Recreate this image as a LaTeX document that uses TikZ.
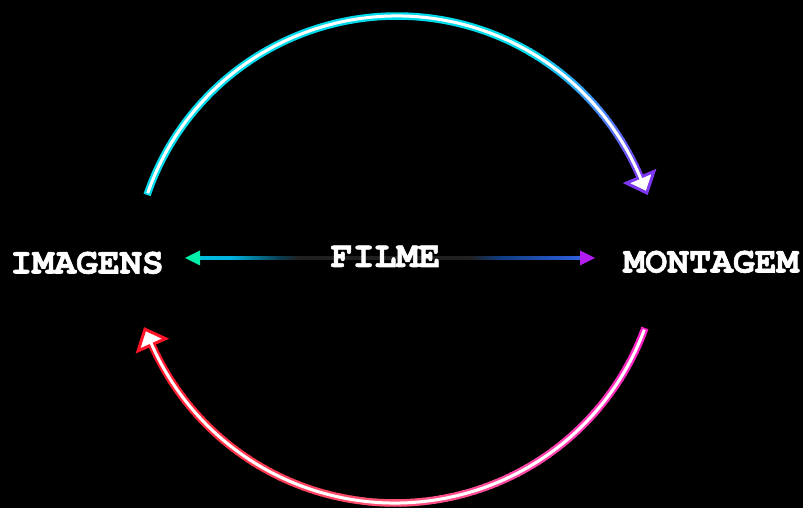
\documentclass[tikz,border=0pt]{standalone}
\usepackage{fontspec}
\newfontfamily\cursorfont[BoldFeatures={FakeBold=1.6}]{TeX Gyre Cursor}
\usetikzlibrary{calc}
\definecolor{tcyan}{RGB}{0,218,235}
\definecolor{tblue}{RGB}{70,140,250}
\definecolor{tpurple}{RGB}{125,55,240}
\definecolor{bmag}{RGB}{255,30,200}
\definecolor{bpink}{RGB}{255,70,170}
\definecolor{bsalmon}{RGB}{255,85,120}
\definecolor{bred2}{RGB}{255,50,70}
\definecolor{bred}{RGB}{255,20,40}
\definecolor{mgA}{RGB}{0,240,170}
\definecolor{mgB}{RGB}{0,220,210}
\definecolor{mgC}{RGB}{0,180,225}
\definecolor{mgD}{RGB}{10,60,80}
\definecolor{mgE}{RGB}{32,32,32}
\definecolor{mgF}{RGB}{15,60,130}
\definecolor{mgG}{RGB}{50,100,230}
\definecolor{mgH}{RGB}{120,50,240}
\definecolor{mgI}{RGB}{178,30,240}
\pgfdeclarehorizontalshading{midgrad}{100bp}{color(0bp)=(mgA); color(13bp)=(mgB); color(29bp)=(mgC); color(35.5bp)=(mgD); color(38bp)=(mgE); color(60.5bp)=(mgE); color(64.5bp)=(mgF); color(76bp)=(mgG); color(89.5bp)=(mgH); color(100bp)=(mgI)}
\newcommand\myGradArc[7]{%
  \foreach \i in {1,...,#7}{%
    \pgfmathsetmacro\sa{#3+(#4-#3)*(\i-1)/#7}%
    \pgfmathsetmacro\ea{#3+(#4-#3)*(\i+0.2)/#7}%
    \pgfmathsetmacro\pp{100*(\i-0.5)/#7}%
    \colorlet{segc}{#6!\pp!#5}%
    \draw[segc, line width=7.5pt] ($(#1)+(\sa:#2)$) arc[start angle=\sa, end angle=\ea, radius=#2];
  }}
\tikzset{
  lbl/.style={text=white, inner sep=0pt, font=\cursorfont\bfseries\fontsize{36.5}{40}\selectfont},
  core/.style={white, line width=3pt},
}
\begin{document}
\begin{tikzpicture}[x=1pt,y=1pt]
\fill[black] (0,0) rectangle (803,508);
\useasboundingbox (0,0) rectangle (803,508);
% labels
\node[lbl, anchor=base] (imagens) at (87,234.5) {IMAGENS};
\node[lbl, anchor=base] (montagem) at (711,235.5) {MONTAGEM};
% centres
\coordinate (C1) at (397,228);
\coordinate (C2) at (395,271);
% top arc
\draw[tcyan, line width=7.5pt] ($(C1)+(161.2:264)$) arc[start angle=161.2, end angle=59.5, radius=264];
\myGradArc{C1}{264}{60}{40}{tcyan}{tblue}{20}
\myGradArc{C1}{264}{40}{22.9}{tblue}{tpurple}{17}
\coordinate (TB) at ($(C1)+(22.9:264)$);
\coordinate (TT) at ($(TB)+(-67.1:17)$);
\coordinate (TL) at ($(TB)+(22.9:15)$);
\coordinate (TR) at ($(TB)+(202.9:15)$);
\filldraw[fill=white, draw=tpurple, line width=3pt, line join=miter] (TT) -- (TL) -- (TR) -- cycle;
\draw[core] ($(C1)+(160.8:264)$) arc[start angle=160.8, end angle=22.9, radius=264] -- ($(TB)+(-67.1:5)$);
% bottom arc
\myGradArc{C2}{266}{-20}{-60}{bmag}{bpink}{30}
\myGradArc{C2}{266}{-60}{-90}{bpink}{bsalmon}{24}
\myGradArc{C2}{266}{-90}{-130}{bsalmon}{bred2}{30}
\myGradArc{C2}{266}{-130}{-156.1}{bred2}{bred}{20}
\coordinate (BB) at ($(C2)+(-156.1:266)$);
\coordinate (BT) at ($(BB)+(-246.1:17)$);
\coordinate (BL) at ($(BB)+(-156.1:15)$);
\coordinate (BR) at ($(BB)+(23.9:15)$);
\filldraw[fill=white, draw=bred, line width=3pt, line join=miter] (BT) -- (BL) -- (BR) -- cycle;
\draw[core] ($(C2)+(-20.4:266)$) arc[start angle=-20.4, end angle=-156.1, radius=266] -- ($(BB)+(-246.1:5)$);
% middle double arrow
\coordinate (ML) at (185,250);
\coordinate (MR) at (595,250);
\shade[shading=midgrad] ($(ML)+(15,-1.5)$) rectangle ($(MR)+(-15,1.5)$);
\fill[mgA] (ML) -- ($(ML)+(15,7.5)$) -- ($(ML)+(15,-7.5)$) -- cycle;
\fill[mgI] (MR) -- ($(MR)+(-15,7.5)$) -- ($(MR)+(-15,-7.5)$) -- cycle;
\node[lbl, anchor=base] (filme) at (385.5,241) {FILME};
\end{tikzpicture}
\end{document}
